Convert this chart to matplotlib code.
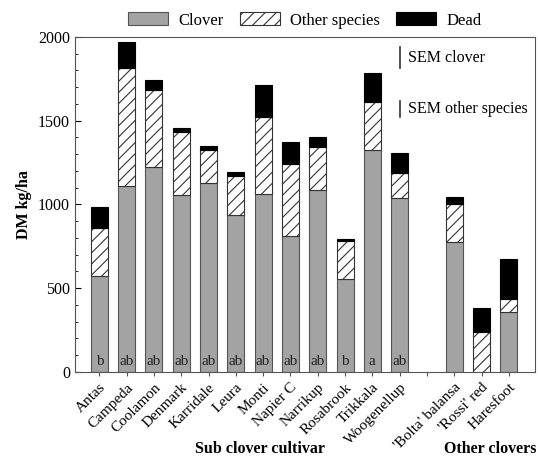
import numpy as np
import matplotlib.pyplot as plt
from matplotlib.ticker import MultipleLocator

plt.rcParams['font.family'] = ['Liberation Serif', 'DejaVu Serif']
plt.rcParams['hatch.linewidth'] = 0.8

cultivars = ['Antas', 'Campeda', 'Coolamon', 'Denmark', 'Karridale', 'Leura',
             'Monti', 'Napier C', 'Narrikup', 'Rosabrook', 'Trikkala', 'Woogenellup']
others = ["'Bolta' balansa", "'Rossi' red", 'Haresfoot']

# stacked components, kg DM/ha
clover = [573, 1110, 1224, 1057, 1128, 937, 1060, 812, 1087, 555, 1325, 1040,
          776, 0, 358]
other_sp = [287, 705, 460, 376, 197, 233, 462, 430, 256, 227, 287, 148,
            227, 239, 78]
dead = [125, 155, 59, 24, 25, 25, 191, 131, 60, 12, 173, 120,
        42, 143, 239]
letters = ['b', 'ab', 'ab', 'ab', 'ab', 'ab', 'ab', 'ab', 'ab', 'b', 'a', 'ab']

sem_clover = 125
sem_other = 95

# leave an empty slot between the two groups
x = np.r_[np.arange(12), np.arange(13, 16)]

fig = plt.figure(figsize=(5.38, 4.62), dpi=100)
ax = fig.add_axes([0.139, 0.195, 0.855, 0.725])

w = 0.62
clover = np.array(clover)
other_sp = np.array(other_sp)
dead = np.array(dead)
ax.bar(x, clover, w, color='#a3a3a3', edgecolor='#555555', lw=0.8, label='Clover')
ax.bar(x, other_sp, w, bottom=clover, color='white', edgecolor='#333333',
       hatch='///', lw=0.8, label='Other species')
ax.bar(x, dead, w, bottom=clover + other_sp, color='black', edgecolor='black',
       lw=0.8, label='Dead')

for xi, t in zip(x, letters):
    ax.text(xi, 25, t, ha='center', va='bottom', fontsize=11, color='#222222')

# SEM markers
ax.plot([11, 11], [1815, 1815 + sem_clover], color='#333333', lw=1.2)
ax.text(11.3, 1877, 'SEM clover', va='center', fontsize=11.5)
ax.plot([11, 11], [1525, 1525 + sem_other], color='#333333', lw=1.2)
ax.text(11.3, 1572, 'SEM other species', va='center', fontsize=11.5)

ax.set_xlim(-0.9, 15.95)
ax.set_ylim(0, 2000)
ax.yaxis.set_major_locator(MultipleLocator(500))
ax.yaxis.set_minor_locator(MultipleLocator(100))
ax.tick_params(axis='y', which='both', direction='in', labelsize=11.5)
ax.tick_params(axis='y', which='major', length=4)
ax.tick_params(axis='y', which='minor', length=2.5)
ax.set_xticks(np.arange(16))
ax.set_xticklabels(cultivars + [''] + others, rotation=45, ha='right',
                   rotation_mode='anchor', fontsize=11)
ax.tick_params(axis='x', length=3, color='#555555')
for s in ax.spines.values():
    s.set_color('#555555')

ax.set_ylabel('DM kg/ha', fontweight='bold', fontsize=11.5)
fig.text(0.483, 0.028, 'Sub clover cultivar', ha='center', va='center',
         fontweight='bold', fontsize=11.5)
fig.text(0.912, 0.028, 'Other clovers', ha='center', va='center',
         fontweight='bold', fontsize=11.5)

ax.legend(loc='lower center', bbox_to_anchor=(0.5, 1.0), ncol=3, frameon=False,
          fontsize=12, handlelength=2.4, handleheight=0.8, columnspacing=1.0,
          handletextpad=0.6, borderaxespad=0.1)

fig.savefig('out.png', dpi=100)
